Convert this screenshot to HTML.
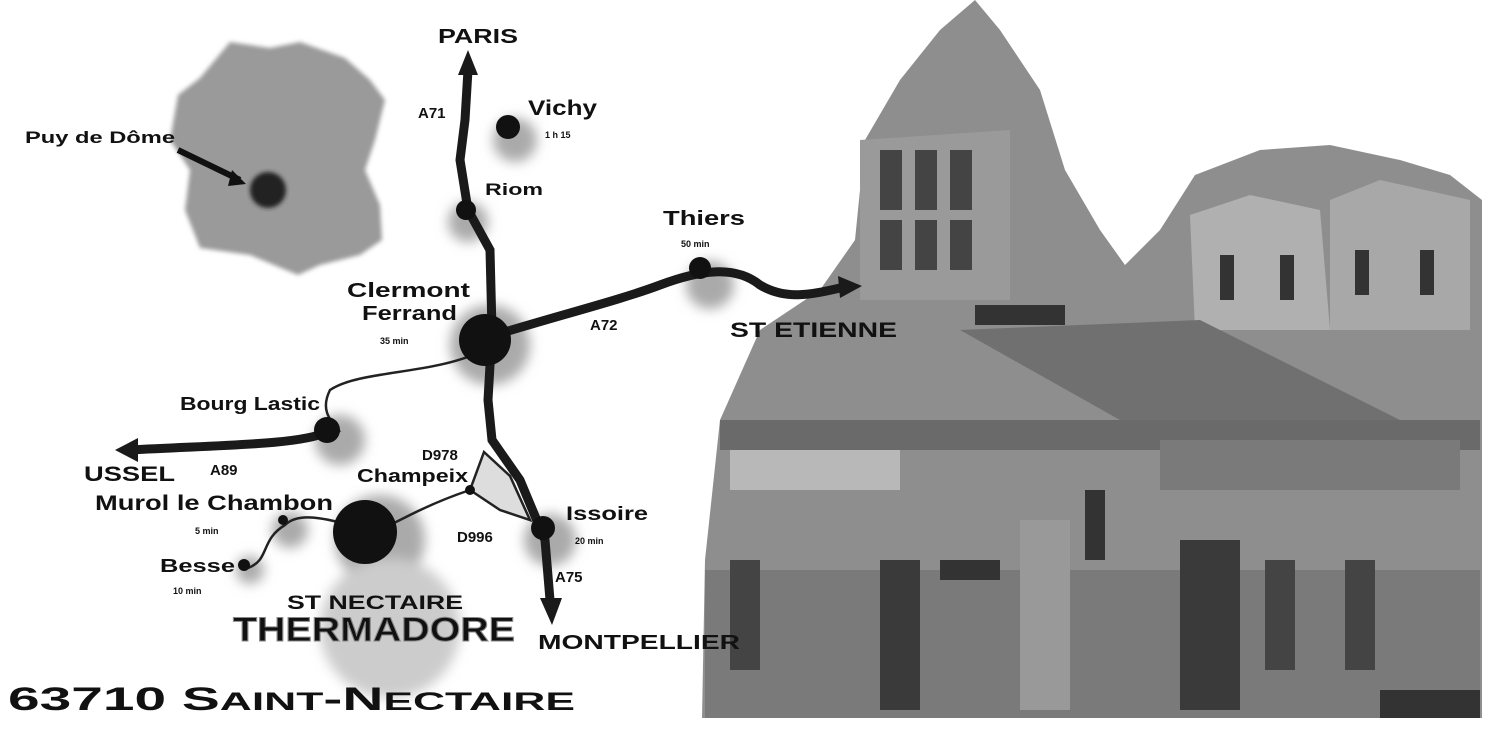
<!DOCTYPE html>
<html><head><meta charset="utf-8"><style>
html,body{margin:0;padding:0;background:#fff}
svg{display:block}
text{font-family:"Liberation Sans",sans-serif;font-weight:bold;fill:#111}
</style></head><body>
<svg width="1494" height="730" viewBox="0 0 1494 730" xmlns="http://www.w3.org/2000/svg">
<defs>
<filter id="bl"><feGaussianBlur stdDeviation="6"/></filter>
<filter id="bl2"><feGaussianBlur stdDeviation="2"/></filter>
</defs>
<!-- church -->
<g>
<path d="M975,0 L1000,30 L1040,90 L1065,170 L1100,230 L1125,265 L1160,230 L1195,175 L1260,150 L1330,145 L1400,160 L1450,175 L1482,200 L1482,718 L702,718 L705,560 L720,420 L760,330 L820,290 L855,240 L865,140 L900,80 L940,30 Z" fill="#8e8e8e"/>
<path d="M860,140 L1010,130 L1010,300 L860,300 Z" fill="#9a9a9a"/>
<rect x="880" y="150" width="22" height="60" fill="#444"/><rect x="915" y="150" width="22" height="60" fill="#444"/><rect x="950" y="150" width="22" height="60" fill="#444"/>
<rect x="880" y="220" width="22" height="50" fill="#444"/><rect x="915" y="220" width="22" height="50" fill="#444"/><rect x="950" y="220" width="22" height="50" fill="#444"/>
<path d="M1190,215 L1250,195 L1320,210 L1330,330 L1195,330 Z" fill="#b0b0b0"/>
<path d="M1330,200 L1380,180 L1470,200 L1470,330 L1330,330 Z" fill="#a8a8a8"/>
<rect x="1220" y="255" width="14" height="45" fill="#333"/><rect x="1280" y="255" width="14" height="45" fill="#333"/><rect x="1355" y="250" width="14" height="45" fill="#333"/><rect x="1420" y="250" width="14" height="45" fill="#333"/>
<rect x="975" y="305" width="90" height="20" fill="#333"/>
<path d="M960,330 L1200,320 L1400,420 L1120,420 Z" fill="#707070"/>
<rect x="720" y="420" width="760" height="30" fill="#6a6a6a"/>
<rect x="730" y="450" width="170" height="40" fill="#b8b8b8"/>
<rect x="1160" y="440" width="300" height="50" fill="#7a7a7a"/>
<rect x="1085" y="490" width="20" height="70" fill="#333"/>
<rect x="705" y="570" width="775" height="148" fill="#7a7a7a"/>
<rect x="730" y="560" width="30" height="110" fill="#444"/>
<rect x="880" y="560" width="40" height="150" fill="#3a3a3a"/>
<rect x="940" y="560" width="60" height="20" fill="#333"/>
<rect x="1180" y="540" width="60" height="170" fill="#3a3a3a"/>
<rect x="1265" y="560" width="30" height="110" fill="#444"/>
<rect x="1345" y="560" width="30" height="110" fill="#444"/>
<rect x="1020" y="520" width="50" height="190" fill="#999"/>
<rect x="1380" y="690" width="100" height="28" fill="#333"/>
</g>
<!-- France -->
<path d="M230,42 L270,48 L300,42 L345,58 L370,80 L385,100 L375,140 L365,170 L380,205 L382,240 L360,255 L320,265 L298,275 L250,255 L200,248 L185,210 L190,170 L170,140 L178,95 L200,78 Z" fill="#9a9a9a" filter="url(#bl2)"/>
<circle cx="268" cy="190" r="18" fill="#222" filter="url(#bl2)"/>
<path d="M178,150 L240,180" stroke="#111" stroke-width="6"/>
<path d="M232,170 L246,184 L228,186 Z" fill="#111"/>
<text x="25" y="143" font-size="17" textLength="150" lengthAdjust="spacingAndGlyphs">Puy de Dôme</text>
<!-- halos -->
<g fill="#aaa" filter="url(#bl)">
<circle cx="515" cy="140" r="22"/><circle cx="468" cy="222" r="20"/><circle cx="710" cy="285" r="24"/>
<circle cx="490" cy="345" r="40"/><circle cx="340" cy="440" r="25"/><circle cx="380" cy="540" r="45"/>
<circle cx="290" cy="530" r="18"/><circle cx="250" cy="570" r="14"/><circle cx="550" cy="540" r="26"/>
<circle cx="390" cy="628" r="70" fill="#ccc"/>
</g>
<!-- minor roads -->
<g fill="none" stroke="#222" stroke-width="2.5">
<path d="M480,352 C430,375 360,370 330,390 C320,410 330,420 340,432"/>
<path d="M470,490 C440,500 420,510 410,515 L370,535"/>
<path d="M370,530 C330,520 300,510 285,525 C260,540 270,560 248,568"/>
</g>
<path d="M484,452 L470,490 L500,510 L530,520 L510,476 Z" fill="#ddd" stroke="#222" stroke-width="2.5"/>
<!-- main roads -->
<g fill="none" stroke="#1a1a1a" stroke-width="9" stroke-linecap="round">
<path d="M468,70 L465,120 L460,160 L468,210 L490,250 L492,330 L488,400 L492,440 L520,480 L545,540 L550,600"/>
<path d="M495,335 C560,315 620,300 660,285 C700,270 735,265 760,285 C785,300 810,295 840,288"/>
<path d="M327,432 C300,445 220,445 130,450"/>
</g>
<path d="M468,50 L478,75 L458,75 Z" fill="#1a1a1a"/>
<path d="M862,286 L838,276 L840,298 Z" fill="#1a1a1a"/>
<path d="M115,450 L138,438 L138,462 Z" fill="#1a1a1a"/>
<path d="M552,625 L540,598 L562,598 Z" fill="#1a1a1a"/>
<!-- nodes -->
<g fill="#111">
<circle cx="508" cy="127" r="12"/><circle cx="466" cy="210" r="10"/><circle cx="700" cy="268" r="11"/>
<circle cx="485" cy="340" r="26"/><circle cx="327" cy="430" r="13"/><circle cx="365" cy="532" r="32"/>
<circle cx="283" cy="520" r="5"/><circle cx="244" cy="565" r="6"/><circle cx="543" cy="528" r="12"/>
<circle cx="470" cy="490" r="5"/>
</g>
<!-- labels -->
<text x="438" y="43" font-size="20" textLength="80" lengthAdjust="spacingAndGlyphs">PARIS</text>
<text x="418" y="118" font-size="15">A71</text>
<text x="528" y="115" font-size="21" textLength="69" lengthAdjust="spacingAndGlyphs">Vichy</text>
<text x="545" y="138" font-size="9">1 h 15</text>
<text x="485" y="195" font-size="17" textLength="58" lengthAdjust="spacingAndGlyphs">Riom</text>
<text x="663" y="225" font-size="20" textLength="82" lengthAdjust="spacingAndGlyphs">Thiers</text>
<text x="681" y="247" font-size="9">50 min</text>
<text x="347" y="297" font-size="20" textLength="123" lengthAdjust="spacingAndGlyphs">Clermont</text>
<text x="362" y="320" font-size="20" textLength="95" lengthAdjust="spacingAndGlyphs">Ferrand</text>
<text x="380" y="344" font-size="9">35 min</text>
<text x="590" y="330" font-size="15">A72</text>
<text x="730" y="337" font-size="21" textLength="167" lengthAdjust="spacingAndGlyphs">ST ETIENNE</text>
<text x="180" y="410" font-size="18" textLength="140" lengthAdjust="spacingAndGlyphs">Bourg Lastic</text>
<text x="84" y="481" font-size="21" textLength="91" lengthAdjust="spacingAndGlyphs">USSEL</text>
<text x="210" y="475" font-size="15">A89</text>
<text x="422" y="460" font-size="15">D978</text>
<text x="357" y="482" font-size="18" textLength="111" lengthAdjust="spacingAndGlyphs">Champeix</text>
<text x="95" y="510" font-size="21" textLength="238" lengthAdjust="spacingAndGlyphs">Murol le Chambon</text>
<text x="195" y="534" font-size="9">5 min</text>
<text x="566" y="520" font-size="19" textLength="82" lengthAdjust="spacingAndGlyphs">Issoire</text>
<text x="575" y="544" font-size="9">20 min</text>
<text x="457" y="542" font-size="15">D996</text>
<text x="160" y="572" font-size="18" textLength="75" lengthAdjust="spacingAndGlyphs">Besse</text>
<text x="173" y="594" font-size="9">10 min</text>
<text x="555" y="582" font-size="15">A75</text>
<text x="287" y="609" font-size="19" textLength="176" lengthAdjust="spacingAndGlyphs">ST NECTAIRE</text>
<text x="233" y="641" font-size="34" textLength="282" lengthAdjust="spacingAndGlyphs" fill="#222" stroke="#888" stroke-width="1">THERMADORE</text>
<text x="538" y="649" font-size="20" textLength="202" lengthAdjust="spacingAndGlyphs">MONTPELLIER</text>
<text x="8" y="710" font-size="32" textLength="567" lengthAdjust="spacingAndGlyphs">63710 S<tspan font-size="25">AINT</tspan>-N<tspan font-size="25">ECTAIRE</tspan></text>
</svg>
</body></html>
